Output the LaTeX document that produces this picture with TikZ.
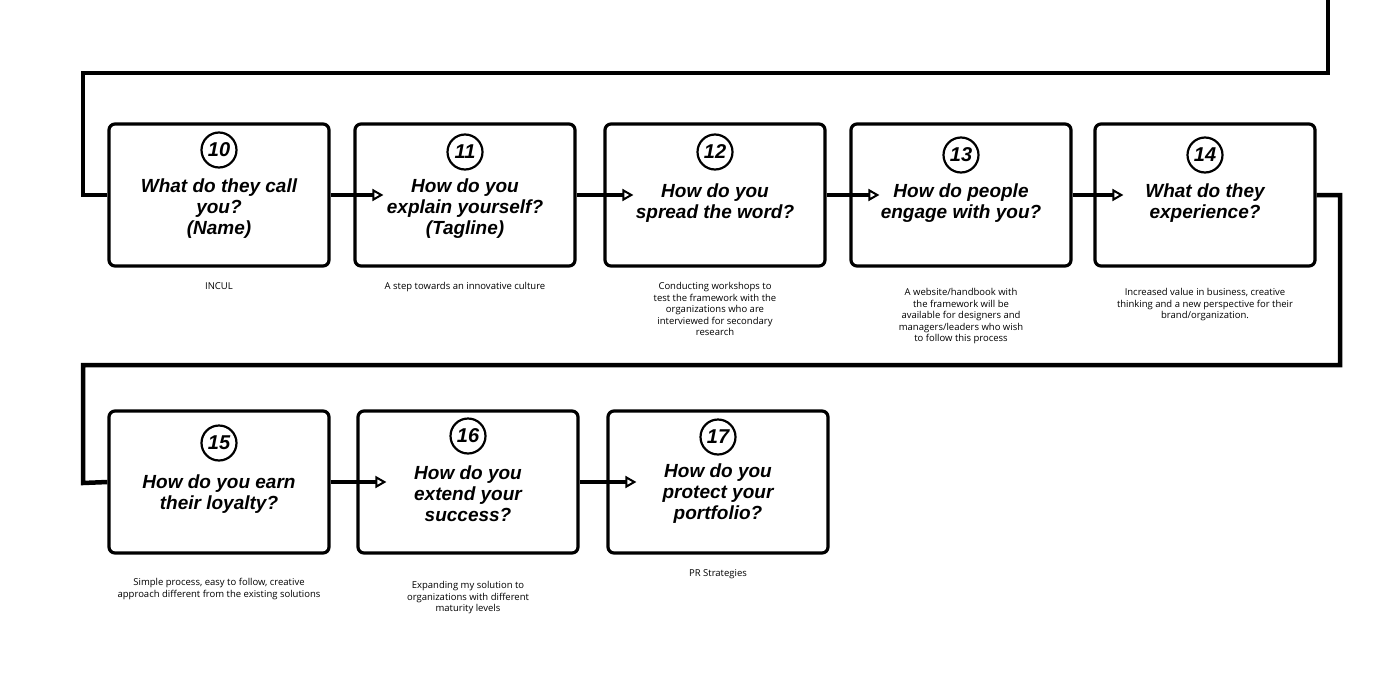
\documentclass[tikz,border=0pt]{standalone}
\usepackage{fontspec}
\setmainfont{Liberation Sans}
\newfontfamily\capfont{Open Sans}
\usetikzlibrary{arrows.meta}

\begin{document}
\begin{tikzpicture}[
   x=1pt, y=-1pt,
   stepbox/.style={draw=black, rounded corners=6, line width=3.2, minimum width=220,
                   minimum height=142, inner sep=0},
   numcirc/.style={circle, draw=black, line width=2.2, minimum size=35, inner sep=0,
                   font=\fontsize{20}{20}\selectfont\bfseries\itshape},
   title/.style={align=center, font=\fontsize{19}{21}\selectfont\bfseries\itshape},
   caption/.style={align=center, font=\capfont\fontsize{9.5}{11.5}\selectfont, anchor=north},
   flow/.style={line width=4, -{Triangle[open, length=11, width=12, line width=2]}},
   path/.style={line width=4.5}
  ]
  \useasboundingbox (0, 0) rectangle (1383, 696);

  % Boxes
  \foreach \n/\x/\y in {10/219/195, 11/465/195, 12/715/195, 13/961/195, 14/1205/195,
                        15/219/482, 16/468/482, 17/718/482} {
    \node (b\n) at (\x, \y) [stepbox] {};
  }

  % Numbers
  \node (n10) at (219, 150) [numcirc] {10};
  \node (n11) at (465, 152) [numcirc] {11};
  \node (n12) at (715, 152) [numcirc] {12};
  \node (n13) at (961, 155) [numcirc] {13};
  \node (n14) at (1205, 155) [numcirc] {14};
  \node (n15) at (219, 443) [numcirc] {15};
  \node (n16) at (468, 436) [numcirc] {16};
  \node (n17) at (718, 437) [numcirc] {17};

  % Titles
  \node (t10) at (219, 209) [title] {What do they call\\you?\\(Name)};
  \node (t11) at (465, 209) [title] {How do you\\explain yourself?\\(Tagline)};
  \node (t12) at (715, 203) [title] {How do you\\spread the word?};
  \node (t13) at (961, 203) [title] {How do people\\engage with you?};
  \node (t14) at (1205, 203) [title] {What do they\\experience?};
  \node (t15) at (219, 494) [title] {How do you earn\\their loyalty?};
  \node (t16) at (468, 494) [title] {How do you\\extend your\\success?};
  \node (t17) at (718, 494) [title] {How do you\\protect your\\portfolio?};

  % Captions
  \node (c10) at (219, 279) [caption] {INCUL};
  \node (c11) at (465, 279) [caption] {A step towards an innovative culture};
  \node (c12) at (715, 279) [caption] {Conducting workshops to\\test the framework with the\\organizations who are\\interviewed for secondary\\research};
  \node (c13) at (961, 285) [caption] {A website/handbook with\\the framework will be\\available for designers and\\managers/leaders who wish\\to follow this process};
  \node (c14) at (1205, 285) [caption] {Increased value in business, creative\\thinking and a new perspective for their\\brand/organization.};
  \node (c15) at (219, 575) [caption] {Simple process, easy to follow, creative\\approach different from the existing solutions};
  \node (c16) at (468, 578) [caption] {Expanding my solution to\\organizations with different\\maturity levels};
  \node (c17) at (718, 566) [caption] {PR Strategies};

  % Arrows between boxes
  \foreach \B/\E in {10/11, 11/12, 12/13, 13/14, 15/16, 16/17} {
    \draw[flow] (b\B.east) -- ([xshift=30]b\E.west);
  }

  % Long connectors
  \coordinate (top) at (1328, 0);
  \draw[path] (top) |- (83, 73) |- (b10.west);
  \draw[path] (b14.east) -| (1340, 365) -| (83, 483) -- (b15.west);
\end{tikzpicture}
\end{document}
